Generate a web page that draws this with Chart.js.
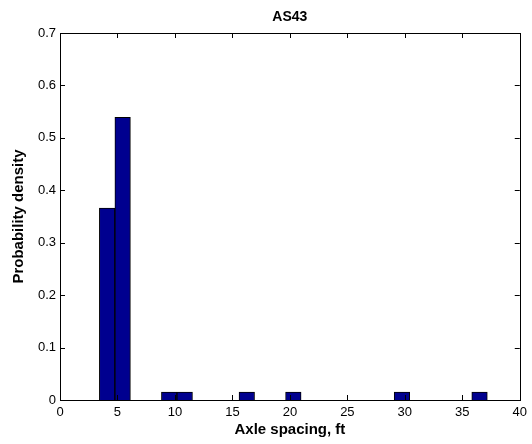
<!DOCTYPE html>
<html>
<head>
<meta charset="utf-8">
<script src="https://cdn.jsdelivr.net/npm/chart.js@4/dist/chart.umd.min.js"></script>
<style>
  html, body { margin: 0; padding: 0; background: #fff; }
  #wrap { width: 532px; height: 444px; }
</style>
</head>
<body>
<div id="wrap"><canvas id="chart" width="532" height="444"></canvas></div>
<script>
// histogram bins (centres, ft) and their probability density
const binCenters = [4.10, 5.45, 6.80, 8.15, 9.50, 10.85, 12.20, 13.55, 14.90, 16.25,
    17.60, 18.95, 20.30, 21.65, 23.00, 24.35, 25.70, 27.05, 28.40, 29.75,
    31.10, 32.45, 33.80, 35.15, 36.50];
const density = [0.366, 0.539, 0, 0, 0.0153, 0.0153, 0, 0, 0, 0.0153,
    0, 0, 0.0153, 0, 0, 0, 0, 0, 0, 0.0153,
    0, 0, 0, 0, 0.0153];
const xTicks = [0, 5, 10, 15, 20, 25, 30, 35, 40];
const yTicks = [0, 0.1, 0.2, 0.3, 0.4, 0.5, 0.6, 0.7];

const chartTitle = 'AS43';
const xLabel = 'Axle spacing, ft';
const yLabel = 'Probability density';

const FONT = '"Liberation Sans", Arial, Helvetica, sans-serif';

// MATLAB style box with inward ticks on all four sides, plus title
const matlabAxes = {
    id: 'matlabAxes',
    afterDatasetsDraw(chart) {
        const {ctx, chartArea: a, scales} = chart;
        const len = 5;
        ctx.save();
        ctx.strokeStyle = '#000';
        ctx.lineWidth = 1;
        ctx.beginPath();
        scales.x.ticks.forEach((t) => {
            const px = Math.round(scales.x.getPixelForValue(t.value)) + 0.5;
            ctx.moveTo(px, a.bottom);
            ctx.lineTo(px, a.bottom - len);
            ctx.moveTo(px, a.top);
            ctx.lineTo(px, a.top + len);
        });
        scales.y.ticks.forEach((t) => {
            const py = Math.round(scales.y.getPixelForValue(t.value)) + 0.5;
            ctx.moveTo(a.left, py);
            ctx.lineTo(a.left + len, py);
            ctx.moveTo(a.right, py);
            ctx.lineTo(a.right - len, py);
        });
        ctx.stroke();
        ctx.strokeRect(Math.round(a.left) + 0.5, Math.round(a.top) + 0.5,
            Math.round(a.right - a.left), Math.round(a.bottom - a.top));

        ctx.fillStyle = '#000';
        ctx.font = 'bold 14px ' + FONT;
        ctx.textAlign = 'center';
        ctx.textBaseline = 'middle';
        ctx.fillText(chartTitle, (a.left + a.right) / 2, 17);
        ctx.restore();
    }
};

new Chart(document.getElementById('chart'), {
    type: 'bar',
    data: {
        datasets: [{
            data: binCenters.map((x, i) => ({x: x, y: density[i]})),
            backgroundColor: 'rgb(0,0,143)',
            borderColor: '#000',
            borderWidth: 1,
            barPercentage: 1,
            categoryPercentage: 1
        }]
    },
    options: {
        responsive: false,
        animation: false,
        layout: { padding: { top: 33, right: 11, left: 0, bottom: 0 } },
        plugins: {
            legend: { display: false },
            tooltip: { enabled: false },
            title: { display: false }
        },
        scales: {
            x: {
                type: 'linear',
                min: 0,
                max: 40,
                offset: false,
                afterBuildTicks: (scale) => { scale.ticks = xTicks.map((v) => ({value: v})); },
                afterFit: (scale) => { scale.height = 44; },
                grid: { display: false, drawTicks: false, offset: false },
                border: { display: false },
                ticks: {
                    padding: 5,
                    color: '#000',
                    font: { family: FONT, size: 13 },
                    maxRotation: 0
                },
                title: {
                    display: true,
                    text: xLabel,
                    color: '#000',
                    font: { family: FONT, size: 15, weight: 'bold' },
                    padding: { top: 0, bottom: 5 }
                }
            },
            y: {
                min: 0,
                max: 0.7,
                afterBuildTicks: (scale) => { scale.ticks = yTicks.map((v) => ({value: v})); },
                afterFit: (scale) => { scale.width = 60; },
                grid: { display: false, drawTicks: false },
                border: { display: false },
                ticks: {
                    padding: 4,
                    color: '#000',
                    font: { family: FONT, size: 13 }
                },
                title: {
                    display: true,
                    text: yLabel,
                    color: '#000',
                    font: { family: FONT, size: 15, weight: 'bold' },
                    padding: { top: 10, bottom: 0 }
                }
            }
        }
    },
    plugins: [matlabAxes]
});
</script>
</body>
</html>
